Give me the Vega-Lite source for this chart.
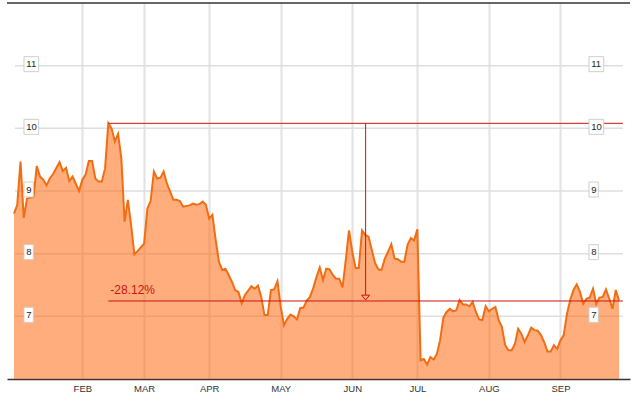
{
  "$schema": "https://vega.github.io/schema/vega-lite/v6.json",
  "width": 623,
  "height": 376,
  "autosize": {"type": "none"},
  "padding": {"left": 7, "top": 3, "right": 7, "bottom": 24},
  "background": "white",
  "config": {"view": {"stroke": null}, "font": "Liberation Sans"},
  "resolve": {"axis": {"x": "independent", "y": "independent"}},
  "datasets": {
    "price": [
      {"session": 0, "close": 8.64}, {"session": 1, "close": 8.78}, {"session": 2, "close": 9.47}, {"session": 3, "close": 8.57},
      {"session": 4, "close": 8.88}, {"session": 6, "close": 8.91}, {"session": 7, "close": 9.40}, {"session": 8, "close": 9.23},
      {"session": 9, "close": 9.18}, {"session": 10, "close": 9.09}, {"session": 11, "close": 9.20}, {"session": 12, "close": 9.27},
      {"session": 14, "close": 9.46}, {"session": 15, "close": 9.32}, {"session": 16, "close": 9.37}, {"session": 17, "close": 9.16},
      {"session": 18, "close": 9.23}, {"session": 20, "close": 9.00}, {"session": 21, "close": 9.18}, {"session": 22, "close": 9.26},
      {"session": 23, "close": 9.48}, {"session": 24, "close": 9.48}, {"session": 25, "close": 9.20}, {"session": 26, "close": 9.15},
      {"session": 27, "close": 9.15}, {"session": 28, "close": 9.36}, {"session": 29, "close": 10.08}, {"session": 30, "close": 10.00},
      {"session": 31, "close": 9.79}, {"session": 32, "close": 9.91}, {"session": 33, "close": 9.52}, {"session": 34, "close": 8.51},
      {"session": 35, "close": 8.86}, {"session": 36, "close": 8.46}, {"session": 37, "close": 7.99}, {"session": 38, "close": 8.04},
      {"session": 40, "close": 8.16}, {"session": 41, "close": 8.72}, {"session": 42, "close": 8.84}, {"session": 43, "close": 9.31},
      {"session": 44, "close": 9.20}, {"session": 45, "close": 9.21}, {"session": 46, "close": 9.31}, {"session": 47, "close": 9.12},
      {"session": 49, "close": 8.86}, {"session": 50, "close": 8.86}, {"session": 51, "close": 8.84}, {"session": 52, "close": 8.75},
      {"session": 54, "close": 8.77}, {"session": 55, "close": 8.80}, {"session": 56, "close": 8.78}, {"session": 57, "close": 8.79},
      {"session": 58, "close": 8.83}, {"session": 59, "close": 8.78}, {"session": 60, "close": 8.56}, {"session": 61, "close": 8.62},
      {"session": 62, "close": 8.22}, {"session": 63, "close": 7.87}, {"session": 64, "close": 7.74}, {"session": 65, "close": 7.76},
      {"session": 66, "close": 7.66}, {"session": 67, "close": 7.55}, {"session": 68, "close": 7.42}, {"session": 69, "close": 7.39},
      {"session": 70, "close": 7.21}, {"session": 71, "close": 7.34}, {"session": 73, "close": 7.48}, {"session": 74, "close": 7.44},
      {"session": 75, "close": 7.49}, {"session": 76, "close": 7.31}, {"session": 77, "close": 7.02}, {"session": 78, "close": 7.02},
      {"session": 79, "close": 7.42}, {"session": 80, "close": 7.43}, {"session": 81, "close": 7.56}, {"session": 82, "close": 7.15},
      {"session": 83, "close": 6.86}, {"session": 84, "close": 6.96}, {"session": 85, "close": 7.03}, {"session": 86, "close": 7.00},
      {"session": 87, "close": 6.95}, {"session": 88, "close": 7.13}, {"session": 89, "close": 7.14}, {"session": 90, "close": 7.25},
      {"session": 91, "close": 7.31}, {"session": 92, "close": 7.45}, {"session": 93, "close": 7.63}, {"session": 94, "close": 7.78},
      {"session": 95, "close": 7.58}, {"session": 96, "close": 7.76}, {"session": 97, "close": 7.75}, {"session": 98, "close": 7.66},
      {"session": 99, "close": 7.60}, {"session": 100, "close": 7.60}, {"session": 101, "close": 7.46}, {"session": 102, "close": 7.90},
      {"session": 103, "close": 8.37}, {"session": 104, "close": 8.03}, {"session": 105, "close": 7.77}, {"session": 106, "close": 7.77},
      {"session": 107, "close": 8.37}, {"session": 108, "close": 8.30}, {"session": 109, "close": 8.27}, {"session": 110, "close": 8.06},
      {"session": 111, "close": 7.85}, {"session": 112, "close": 7.75}, {"session": 113, "close": 7.74}, {"session": 114, "close": 7.92},
      {"session": 115, "close": 8.03}, {"session": 116, "close": 8.15}, {"session": 117, "close": 7.92}, {"session": 118, "close": 7.91},
      {"session": 119, "close": 7.87}, {"session": 120, "close": 7.87}, {"session": 121, "close": 8.14}, {"session": 122, "close": 8.25},
      {"session": 123, "close": 8.21}, {"session": 124, "close": 8.39}, {"session": 125, "close": 6.30}, {"session": 126, "close": 6.32},
      {"session": 127, "close": 6.23}, {"session": 128, "close": 6.35}, {"session": 129, "close": 6.31}, {"session": 130, "close": 6.40},
      {"session": 131, "close": 6.62}, {"session": 132, "close": 6.98}, {"session": 133, "close": 7.07}, {"session": 134, "close": 7.12},
      {"session": 135, "close": 7.08}, {"session": 136, "close": 7.10}, {"session": 137, "close": 7.26}, {"session": 138, "close": 7.19},
      {"session": 139, "close": 7.19}, {"session": 140, "close": 7.16}, {"session": 141, "close": 7.23}, {"session": 142, "close": 7.07},
      {"session": 143, "close": 6.95}, {"session": 144, "close": 6.94}, {"session": 145, "close": 7.16}, {"session": 146, "close": 7.08},
      {"session": 147, "close": 7.12}, {"session": 148, "close": 7.15}, {"session": 149, "close": 6.94}, {"session": 150, "close": 6.83},
      {"session": 151, "close": 6.54}, {"session": 152, "close": 6.46}, {"session": 153, "close": 6.46}, {"session": 154, "close": 6.56},
      {"session": 155, "close": 6.80}, {"session": 156, "close": 6.72}, {"session": 157, "close": 6.59}, {"session": 158, "close": 6.70},
      {"session": 159, "close": 6.82}, {"session": 160, "close": 6.78}, {"session": 161, "close": 6.77}, {"session": 162, "close": 6.70},
      {"session": 163, "close": 6.59}, {"session": 164, "close": 6.44}, {"session": 165, "close": 6.44}, {"session": 166, "close": 6.54},
      {"session": 167, "close": 6.48}, {"session": 168, "close": 6.62}, {"session": 169, "close": 6.70}, {"session": 170, "close": 7.04},
      {"session": 171, "close": 7.26}, {"session": 172, "close": 7.42}, {"session": 173, "close": 7.51}, {"session": 174, "close": 7.39},
      {"session": 175, "close": 7.20}, {"session": 176, "close": 7.28}, {"session": 177, "close": 7.30}, {"session": 178, "close": 7.44},
      {"session": 179, "close": 7.20}, {"session": 180, "close": 7.30}, {"session": 181, "close": 7.31}, {"session": 182, "close": 7.43},
      {"session": 183, "close": 7.28}, {"session": 184, "close": 7.12}, {"session": 185, "close": 7.42}, {"session": 186, "close": 7.25}
    ],
    "ticks": [{"v": 7}, {"v": 8}, {"v": 9}, {"v": 10}, {"v": 11}],
    "annot": [{"from": 29, "peak": 10.08, "last": 7.245, "label": "-28.12%"}]
  },
  "layer": [
    {
      "data": {"name": "ticks"},
      "mark": {"type": "rule", "stroke": "#dedede", "strokeWidth": 1.5},
      "encoding": {
        "y": {"field": "v", "type": "quantitative", "axis": null, "scale": {"domain": [6, 12], "nice": false, "zero": false}},
        "x": {"datum": 0.3, "type": "quantitative", "axis": null, "scale": {"domain": [-2.152, 189.38], "nice": false, "zero": false}},
        "x2": {"datum": 187.2}
      }
    },
    {
      "data": {"name": "price"},
      "mark": {"type": "area", "color": "#ff6a10", "fillOpacity": 0.55, "line": {"color": "#f26d12", "strokeWidth": 2}},
      "encoding": {
        "x": {
          "field": "session", "type": "quantitative",
          "scale": {"domain": [-2.152, 189.38], "nice": false, "zero": false},
          "axis": {
            "values": [21, 40, 60, 82, 104, 124, 146, 168],
            "labelExpr": "datum.value == 21 ? 'FEB' : datum.value == 40 ? 'MAR' : datum.value == 60 ? 'APR' : datum.value == 82 ? 'MAY' : datum.value == 104 ? 'JUN' : datum.value == 124 ? 'JUL' : datum.value == 146 ? 'AUG' : 'SEP'",
            "grid": true, "gridColor": "#e2e2e2", "gridWidth": 2,
            "ticks": false, "domainColor": "#333333", "domainWidth": 1.5,
            "labelFontSize": 9.5, "labelColor": "#333333", "labelPadding": 4, "labelFlush": false,
            "title": null
          }
        },
        "y": {
          "field": "close", "type": "quantitative",
          "scale": {"domain": [6, 12], "nice": false, "zero": false},
          "axis": null
        },
        "y2": {"datum": 6}
      }
    },
    {
      "data": {"name": "ticks"},
      "transform": [{"filter": "datum.v == 11"}],
      "mark": {"type": "rule", "stroke": "#333333", "strokeWidth": 1.5},
      "encoding": {"y": {"datum": 12, "type": "quantitative", "axis": null, "scale": {"domain": [6, 12], "nice": false, "zero": false}}}
    },
    {
      "data": {"name": "annot"},
      "mark": {"type": "rule", "stroke": "#cc1111", "strokeWidth": 1},
      "encoding": {
        "y": {"field": "peak", "type": "quantitative", "axis": null, "scale": {"domain": [6, 12], "nice": false, "zero": false}},
        "x": {"field": "from", "type": "quantitative", "axis": null, "scale": {"domain": [-2.152, 189.38], "nice": false, "zero": false}},
        "x2": {"datum": 187.2}
      }
    },
    {
      "data": {"name": "annot"},
      "mark": {"type": "rule", "stroke": "#cc1111", "strokeWidth": 1},
      "encoding": {
        "y": {"field": "last", "type": "quantitative", "axis": null, "scale": {"domain": [6, 12], "nice": false, "zero": false}},
        "x": {"field": "from", "type": "quantitative", "axis": null, "scale": {"domain": [-2.152, 189.38], "nice": false, "zero": false}},
        "x2": {"datum": 187.2}
      }
    },
    {
      "data": {"name": "annot"},
      "mark": {"type": "rule", "stroke": "#cc1111", "strokeWidth": 1},
      "encoding": {
        "x": {"datum": 108.1, "type": "quantitative", "axis": null, "scale": {"domain": [-2.152, 189.38], "nice": false, "zero": false}},
        "y": {"field": "peak", "type": "quantitative", "axis": null, "scale": {"domain": [6, 12], "nice": false, "zero": false}},
        "y2": {"datum": 7.34}
      }
    },
    {
      "data": {"name": "annot"},
      "mark": {"type": "point", "shape": "M-1,-0.6L1,-0.6L0,0.6Z", "size": 64, "filled": false, "color": "#cc1111", "strokeWidth": 1, "opacity": 1},
      "encoding": {
        "x": {"datum": 108.1, "type": "quantitative", "axis": null, "scale": {"domain": [-2.152, 189.38], "nice": false, "zero": false}},
        "y": {"datum": 7.30, "type": "quantitative", "axis": null, "scale": {"domain": [6, 12], "nice": false, "zero": false}}
      }
    },
    {
      "data": {"name": "annot"},
      "mark": {"type": "text", "align": "left", "baseline": "alphabetic", "dx": 2, "dy": -7, "fontSize": 12, "color": "#cc1111"},
      "encoding": {
        "x": {"field": "from", "type": "quantitative", "axis": null, "scale": {"domain": [-2.152, 189.38], "nice": false, "zero": false}},
        "y": {"field": "last", "type": "quantitative", "axis": null, "scale": {"domain": [6, 12], "nice": false, "zero": false}},
        "text": {"field": "label"}
      }
    },
    {
      "data": {"name": "ticks"},
      "transform": [{"filter": "datum.v >= 10"}],
      "mark": {"type": "point", "shape": "M0,-9H14.7V6H0Z", "filled": true, "fill": "white", "stroke": "#cfcfcf", "strokeWidth": 1, "size": 4, "opacity": 1},
      "encoding": {
        "x": {"datum": 3.074, "type": "quantitative", "axis": null, "scale": {"domain": [-2.152, 189.38], "nice": false, "zero": false}},
        "y": {"field": "v", "type": "quantitative", "axis": null, "scale": {"domain": [6, 12], "nice": false, "zero": false}}
      }
    },
    {
      "data": {"name": "ticks"},
      "transform": [{"filter": "datum.v < 10"}],
      "mark": {"type": "point", "shape": "M0,-9H9.3V6H0Z", "filled": true, "fill": "white", "stroke": "#cfcfcf", "strokeWidth": 1, "size": 4, "opacity": 1},
      "encoding": {
        "x": {"datum": 3.074, "type": "quantitative", "axis": null, "scale": {"domain": [-2.152, 189.38], "nice": false, "zero": false}},
        "y": {"field": "v", "type": "quantitative", "axis": null, "scale": {"domain": [6, 12], "nice": false, "zero": false}}
      }
    },
    {
      "data": {"name": "ticks"},
      "transform": [{"filter": "datum.v >= 10"}],
      "mark": {"type": "point", "shape": "M0,-9H14.7V6H0Z", "filled": true, "fill": "white", "stroke": "#cfcfcf", "strokeWidth": 1, "size": 4, "opacity": 1},
      "encoding": {
        "x": {"datum": 176.77, "type": "quantitative", "axis": null, "scale": {"domain": [-2.152, 189.38], "nice": false, "zero": false}},
        "y": {"field": "v", "type": "quantitative", "axis": null, "scale": {"domain": [6, 12], "nice": false, "zero": false}}
      }
    },
    {
      "data": {"name": "ticks"},
      "transform": [{"filter": "datum.v < 10"}],
      "mark": {"type": "point", "shape": "M0,-9H9.3V6H0Z", "filled": true, "fill": "white", "stroke": "#cfcfcf", "strokeWidth": 1, "size": 4, "opacity": 1},
      "encoding": {
        "x": {"datum": 176.77, "type": "quantitative", "axis": null, "scale": {"domain": [-2.152, 189.38], "nice": false, "zero": false}},
        "y": {"field": "v", "type": "quantitative", "axis": null, "scale": {"domain": [6, 12], "nice": false, "zero": false}}
      }
    },
    {
      "data": {"name": "ticks"},
      "mark": {"type": "text", "align": "left", "baseline": "middle", "dx": 2.3, "dy": -1.5, "fontSize": 9.5, "color": "#222222"},
      "encoding": {
        "x": {"datum": 3.074, "type": "quantitative", "axis": null, "scale": {"domain": [-2.152, 189.38], "nice": false, "zero": false}},
        "y": {"field": "v", "type": "quantitative", "axis": null, "scale": {"domain": [6, 12], "nice": false, "zero": false}},
        "text": {"field": "v", "type": "quantitative"}
      }
    },
    {
      "data": {"name": "ticks"},
      "mark": {"type": "text", "align": "left", "baseline": "middle", "dx": 2.3, "dy": -1.5, "fontSize": 9.5, "color": "#222222"},
      "encoding": {
        "x": {"datum": 176.77, "type": "quantitative", "axis": null, "scale": {"domain": [-2.152, 189.38], "nice": false, "zero": false}},
        "y": {"field": "v", "type": "quantitative", "axis": null, "scale": {"domain": [6, 12], "nice": false, "zero": false}},
        "text": {"field": "v", "type": "quantitative"}
      }
    }
  ]
}
